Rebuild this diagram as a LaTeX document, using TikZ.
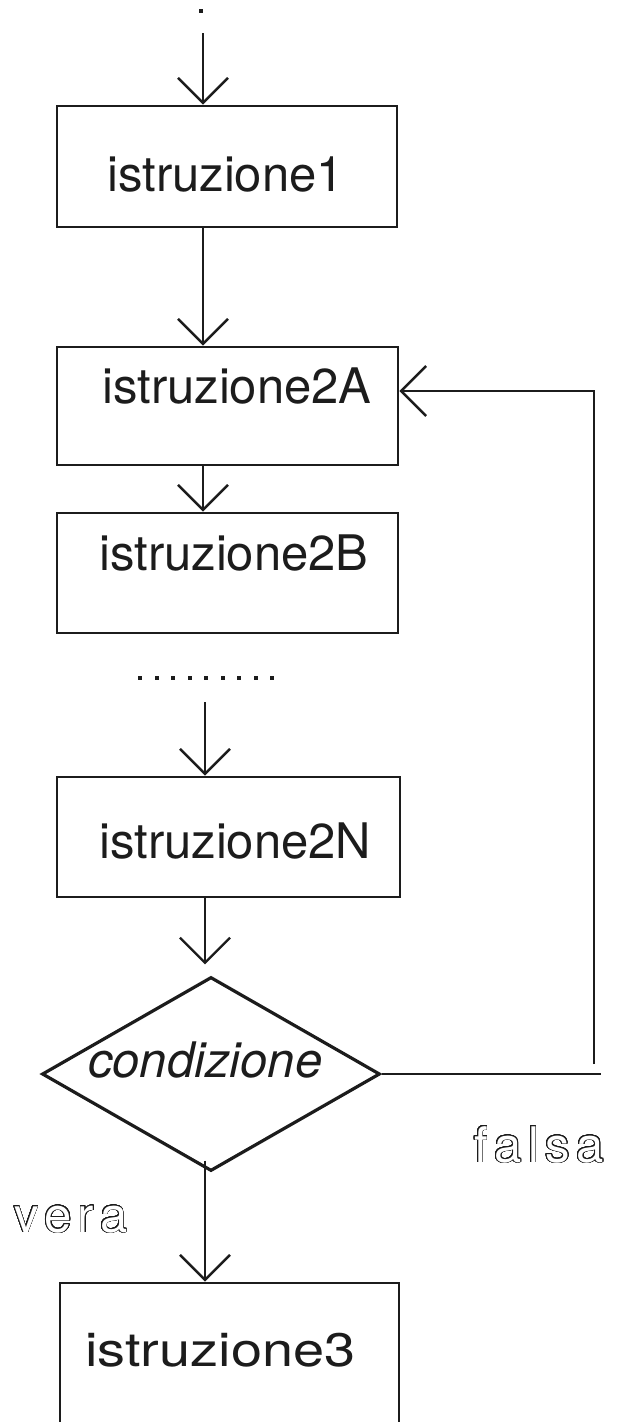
\documentclass[tikz,border=0pt]{standalone}
\usepackage{fontspec}
\setmainfont{TeX Gyre Heros}
\usepackage[copies]{contour}
\usetikzlibrary{arrows.meta,shapes.geometric,calc}
\definecolor{ink}{HTML}{1C1C1C}
\contourlength{0.75pt}
\contournumber{32}
\begin{document}
\begin{tikzpicture}[x=1pt,y=-1pt,
  blk/.style={draw=ink, line width=2.8pt, rectangle, inner sep=0pt},
  decision/.style={draw=ink, line width=3.2pt, diamond, inner sep=0pt},
  txt/.style={inner sep=0pt, anchor=base west, text=ink, font=\fontsize{49}{55}\selectfont},
  outl/.style={inner sep=0pt, anchor=base west, font=\fontsize{49}{55}\selectfont},
  wire/.style={draw=ink, line width=2.4pt},
  arr/.style={wire, -{Straight Barb[length=25pt,width=50pt]}}]
\useasboundingbox (0,0) rectangle (617,1422);
\fill[white] (0,0) rectangle (617,1422);

% main axes of the flow
\coordinate (axis) at (203,0);
\coordinate (axisB) at (205,0);

% blocks
\node[blk, minimum width=340pt, minimum height=121pt] (b1)  at (227,166.5) {};
\node[blk, minimum width=341pt, minimum height=118pt] (b2A) at (227.5,406) {};
\node[blk, minimum width=341pt, minimum height=120pt] (b2B) at (227.5,573) {};
\node[blk, minimum width=343pt, minimum height=120pt] (b2N) at (228.5,837) {};
\node[blk, minimum width=339pt, minimum height=145pt] (b3)  at (229.5,1355.5) {};
\node[decision, minimum width=338pt, minimum height=194pt] (cond) at (211,1074) {};

% block texts
\node[txt] (t1)  at (107,191)  {istruzione1};
\node[txt] (t2A) at (102,403)  {istruzione2A};
\node[txt] (t2B) at (99,570)   {istruzione2B};
\node[txt] (t2N) at (99,858)   {istruzione2N};
\node[txt, font=\fontsize{47}{53}\selectfont] (t3) at (85,1366) {\scalebox{1.19}[1]{istruzione3}};
\node[txt] (tc)  at (88,1077)  {\itshape condizione};

% branch labels in outline lettering
\node[outl] (lvera)  at (14,1232)  {\textcolor{white}{\contour{ink}{v\kern6pt e\kern6pt r\kern6pt a}}};
\node[outl] (lfalsa) at (474,1162) {\textcolor{white}{\contour{ink}{f\kern6.5pt a\kern6.5pt l\kern6.5pt s\kern6.5pt a}}};

% entry point
\fill[ink] (199,9) rectangle ++(4,4);
\coordinate (in) at (203,33);
\draw[arr] (in) -- (axis |- b1.north);

% sequence
\draw[arr] (axis |- b1.south) -- (axis |- b2A.north);
\draw[arr] (axis |- b2A.south) -- (axis |- b2B.north);

% ellipsis between blocks
\foreach \k in {0,...,8}
  \fill[ink] ({140+16.5*\k-2},676) rectangle ++(4,4);
\coordinate (gap) at (205,702);
\draw[arr] (gap) -- (axisB |- b2N.north);

% into the decision
\draw[arr] (axisB |- b2N.south) -- ($(axisB |- cond.north)+(0,-11)$);

% true branch
\draw[arr] ($(axisB |- cond.south)+(0,-12)$) -- (axisB |- b3.north);

% false branch, back to istruzione2A
\coordinate (fend) at (601,1074);
\draw[wire] (cond.east) -- (fend);
\coordinate (lbot) at (594,1064);
\coordinate (ltop) at (594,391);
\draw[arr] (lbot) -- (ltop) -- (b2A.east |- ltop);
\end{tikzpicture}
\end{document}
